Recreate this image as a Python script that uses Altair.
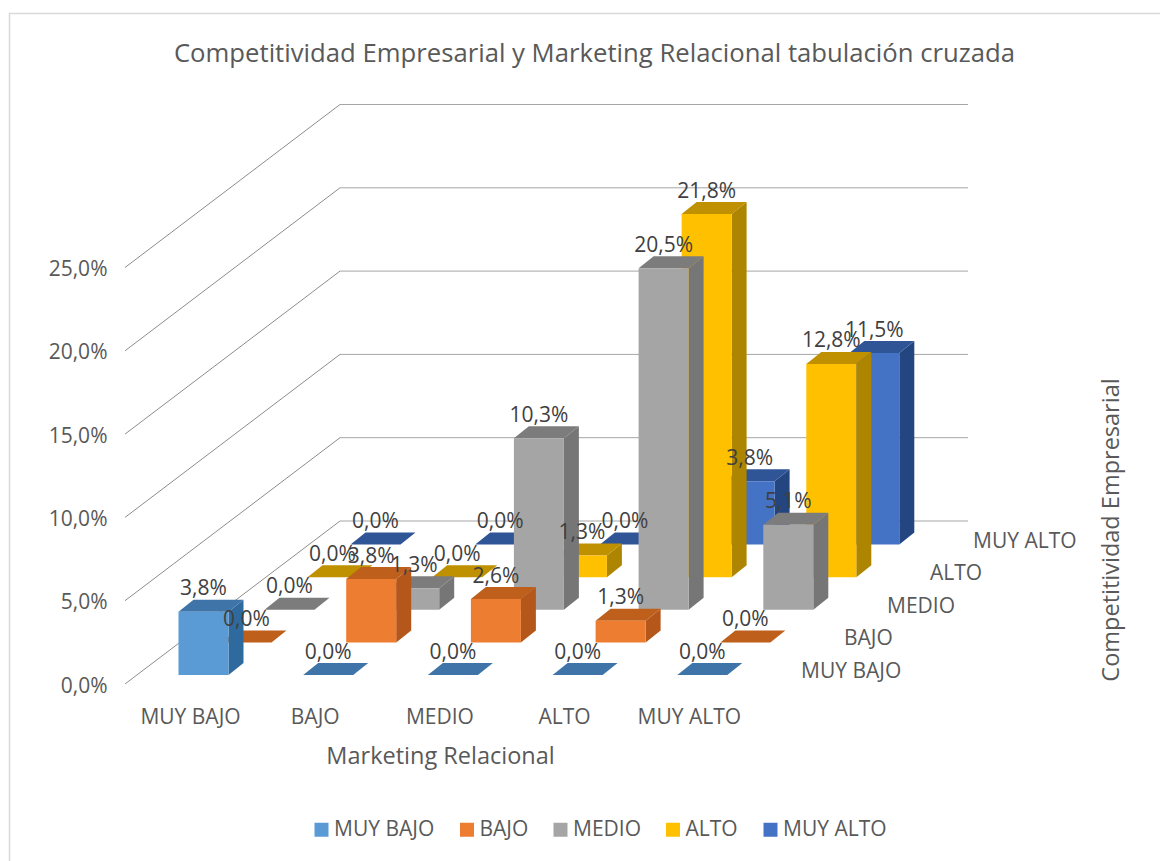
import altair as alt
import pandas as pd

CHART_TITLE = "Competitividad Empresarial y Marketing Relacional tabulación cruzada"
X_TITLE = "Marketing Relacional"
DEPTH_TITLE = "Competitividad Empresarial"
categories = ["MUY BAJO", "BAJO", "MEDIO", "ALTO", "MUY ALTO"]
series_names = ["MUY BAJO", "BAJO", "MEDIO", "ALTO", "MUY ALTO"]
muy_bajo = [3.8, 0.0, 0.0, 0.0, 0.0]
bajo = [0.0, 3.8, 2.6, 1.3, 0.0]
medio = [0.0, 1.3, 10.3, 20.5, 5.1]
alto = [0.0, 0.0, 1.3, 21.8, 12.8]
muy_alto = [0.0, 0.0, 0.0, 3.8, 11.5]
series_values = [muy_bajo, bajo, medio, alto, muy_alto]
y_ticks = [0, 5, 10, 15, 20, 25]
front_colors = ["#5B9BD5", "#ED7D31", "#A5A5A5", "#FFC000", "#4472C4"]
top_colors = ["#3F74A8", "#BE5F1C", "#7C7C7C", "#BF9000", "#2F5597"]
side_colors = ["#2F6A9E", "#B5571A", "#767676", "#AD8500", "#244680"]

FONT = "Open Sans"
TEXT = "#595959"
LABEL = "#404040"

# projection of the 3D box into the two scales: x in category widths, y in percent
CAT_PX, PCT_PX = 124.7, 16.66
LEFT, BOTTOM, RIGHT, TOP = 125, 684, 968, 105
X_MAX = (RIGHT - LEFT) / CAT_PX
Y_MAX = (BOTTOM - TOP) / PCT_PX
BAR_X0 = (178.5 - LEFT) / CAT_PX
BAR_W = 50 / CAT_PX
ROW_DX = 43 / CAT_PX
ROW_DY = 32.6 / PCT_PX
BAR_Y0 = (BOTTOM - 675) / PCT_PX
DEPTH_DX = 15 / CAT_PX
DEPTH_DY = 12 / PCT_PX
WALL_DX = 215 / CAT_PX
WALL_DY = 163 / PCT_PX

fronts, sides, tops, labels = [], [], [], []
for r, vals in enumerate(series_values):
    for c, v in enumerate(vals):
        x0 = BAR_X0 + c + r * ROW_DX
        x1 = x0 + BAR_W
        base = BAR_Y0 + r * ROW_DY
        top = base + v
        bar = f"{r}-{c}"
        fronts.append(dict(row=r, serie=series_names[r], x0=x0, x1=x1, base=base, top=top))
        sides.append(dict(row=r, bar=bar, x=x1, b=base, t=top))
        sides.append(dict(row=r, bar=bar, x=x1 + DEPTH_DX, b=base + DEPTH_DY, t=top + DEPTH_DY))
        tops.append(dict(row=r, bar=bar, y=top, a=x0, b=x1))
        tops.append(dict(row=r, bar=bar, y=top + DEPTH_DY, a=x0 + DEPTH_DX, b=x1 + DEPTH_DX))
        labels.append(dict(x=(x0 + x1) / 2, y=top + DEPTH_DY, text=f"{v:.1f}".replace(".", ",") + "%"))

wall = []
back = []
for t in y_ticks:
    wall += [dict(t=t, x=0, y=t), dict(t=t, x=WALL_DX, y=t + WALL_DY)]
    back += [dict(t=t, x=WALL_DX, y=t + WALL_DY), dict(t=t, x=X_MAX, y=t + WALL_DY)]

depth_labels = pd.DataFrame([
    dict(text=s, x=(801 - LEFT) / CAT_PX + i * ROW_DX, y=(BOTTOM - 672) / PCT_PX + i * ROW_DY)
    for i, s in enumerate(series_names)
])

fronts, sides, tops = pd.DataFrame(fronts), pd.DataFrame(sides), pd.DataFrame(tops)
X = alt.Scale(domain=[0, X_MAX], nice=False, zero=False)
Y = alt.Scale(domain=[0, Y_MAX], nice=False, zero=False)
x_q = lambda f: alt.X(f"{f}:Q", scale=X, axis=None)
y_q = lambda f: alt.Y(f"{f}:Q", scale=Y, axis=None)

frame = alt.Chart(pd.DataFrame({"f": [0]})).mark_rect(
    fillOpacity=0, stroke="#D9D9D9", strokeWidth=1.5
).encode(
    x=alt.value(9.5 - LEFT), x2=alt.value(1175 - LEFT),
    y=alt.value(13.5 - TOP), y2=alt.value(875 - TOP),
)

cat_offset = (190 - LEFT) / CAT_PX
cat_array = "[" + ",".join(f"'{c}'" for c in categories) + "]"
axes = alt.Chart(pd.DataFrame({"x": [0.0], "y": [0.0]})).mark_point(opacity=0).encode(
    x=alt.X("x:Q", scale=X, title=X_TITLE, axis=alt.Axis(
        values=[cat_offset + i for i in range(len(categories))],
        labelExpr=f"{cat_array}[round(datum.value - {cat_offset})]",
        domain=False, ticks=False, grid=False, labelPadding=22, labelFont=FONT, labelFontSize=21,
        labelColor=TEXT, titleFont=FONT, titleFontSize=23.5, titleFontWeight="normal", titleColor=TEXT,
        titleX=315, titleY=60, labelOverlap=False,
    )),
    y=alt.Y("y:Q", scale=Y, title=None, axis=alt.Axis(
        values=y_ticks,
        labelExpr="replace(format(datum.value, '.1f'), '.', ',') + '%'",
        domain=False, ticks=False, grid=False, labelPadding=18, labelFont=FONT, labelFontSize=21,
        labelColor=TEXT, labelOffset=2,
    )),
)

wall_lines = alt.Chart(pd.DataFrame(wall)).mark_line(color="#8C8C8C", strokeWidth=1).encode(
    x=x_q("x"), y=y_q("y"), detail="t:N")
back_lines = alt.Chart(pd.DataFrame(back)).mark_line(color="#A6A6A6", strokeWidth=1).encode(
    x=x_q("x"), y=y_q("y"), detail="t:N")

layers = [frame, axes, wall_lines, back_lines]
for r in reversed(range(len(series_names))):
    layers.append(alt.Chart(sides[sides.row == r]).mark_area(color=side_colors[r]).encode(
        x=x_q("x"), y=y_q("b"), y2="t:Q", detail="bar:N"))
    layers.append(alt.Chart(tops[tops.row == r]).mark_area(color=top_colors[r], orient="horizontal").encode(
        y=y_q("y"), x=x_q("a"), x2="b:Q", detail="bar:N"))
    layers.append(alt.Chart(fronts[fronts.row == r]).mark_rect().encode(
        x=x_q("x0"), x2="x1:Q", y=y_q("base"), y2="top:Q",
        color=alt.Color("serie:N", scale=alt.Scale(domain=series_names, range=front_colors), legend=alt.Legend(
            orient="none", legendX=186, legendY=714, direction="horizontal", title=None,
            symbolType="square", symbolSize=196, symbolStrokeWidth=0, symbolOpacity=1,
            labelFont=FONT, labelFontSize=21, labelColor=TEXT, labelOffset=2, columnPadding=21.5,
            labelLimit=200,
        )),
    ))

data_labels = alt.Chart(pd.DataFrame(labels)).mark_text(
    font=FONT, fontSize=21, color=LABEL, dy=-4.5, baseline="alphabetic", align="center"
).encode(x=x_q("x"), y=y_q("y"), text="text:N")
depth_text = alt.Chart(depth_labels).mark_text(
    font=FONT, fontSize=21, color=TEXT, align="left", baseline="middle"
).encode(x=x_q("x"), y=y_q("y"), text="text:N")
depth_title = alt.Chart(pd.DataFrame({"text": [DEPTH_TITLE]})).mark_text(
    font=FONT, fontSize=23.5, color=TEXT, angle=270, align="center", baseline="middle"
).encode(x=alt.value(1112 - LEFT), y=alt.value(530 - TOP), text="text:N")
layers += [data_labels, depth_text, depth_title]

chart = alt.layer(*layers).resolve_axis(x="independent", y="independent").properties(
    width=RIGHT - LEFT,
    height=BOTTOM - TOP,
    autosize="none",
    padding={"left": LEFT - 8, "top": TOP - 8, "right": 1160 - RIGHT, "bottom": 861 - BOTTOM},
    title=alt.TitleParams(CHART_TITLE, font=FONT, fontSize=25.7, fontWeight="normal", color=TEXT,
                          anchor="middle", frame="group", dx=48, offset=-55),
).configure_view(stroke=None)

chart.save("out.html", embed_options={"renderer": "svg", "actions": False})
